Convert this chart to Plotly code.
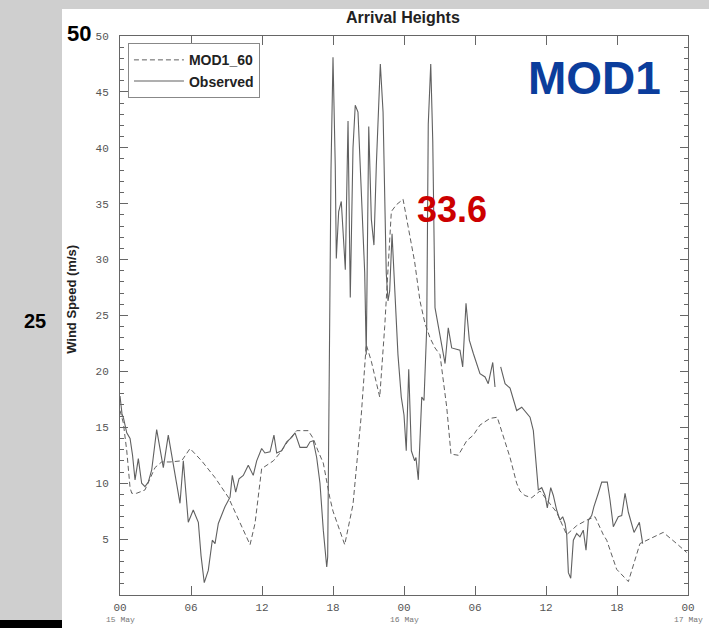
import plotly.graph_objects as go

# Hours since 00 UTC 15 May
obs_hours = [0.00, 0.17, 0.30, 0.57, 0.85, 1.06, 1.27, 1.55, 1.83, 2.11, 2.39, 2.68, 3.10, 3.38, 3.66,
             4.08, 4.50, 4.82, 5.07, 5.35, 5.77, 6.19, 6.62, 6.85, 7.12, 7.46, 7.80, 8.03, 8.31, 8.87,
             9.30, 9.49, 9.78, 10.06, 10.42, 10.84, 11.26, 11.55, 11.97, 12.25, 12.68, 13.01, 13.24,
             13.66, 14.09, 14.51, 14.79, 15.21, 15.78, 16.06, 16.33, 16.62, 16.90, 17.18, 17.47, 17.55,
             17.66, 17.83, 18.00, 18.19, 18.28, 18.48, 18.70, 18.93, 19.04, 19.27, 19.46, 19.69, 19.88,
             20.11, 20.39, 20.68, 20.81, 21.02, 21.24, 21.46, 21.66, 22.00, 22.23, 22.50, 22.65, 22.79,
             22.99, 23.21, 23.49, 23.77, 24.00, 24.19, 24.40, 24.62, 24.90, 25.01, 25.21, 25.50, 25.69,
             25.92, 26.05, 26.26, 26.43, 26.62, 27.04, 27.47, 27.74, 28.03, 28.73, 28.96, 29.24, 29.52,
             29.86, 30.42, 30.85, 31.12, 31.50, 31.69, 31.90, 32.17, 32.54, 32.96, 33.52, 33.95, 34.37,
             34.65, 34.93, 35.21, 35.35, 35.64, 35.92, 36.11, 36.40, 36.62, 36.90, 37.18, 37.41, 37.61,
             37.75, 37.89, 38.09, 38.31, 38.59, 38.87, 39.15, 39.38, 39.58, 39.86, 40.05, 40.42, 40.71,
             41.18, 41.41, 41.69, 42.11, 42.40, 42.68, 42.96, 43.44, 43.89, 44.17]
obs_speed = [17.8, 16.2, 15.8, 14.5, 14.0, 12.5, 10.3, 12.2, 10.0, 9.7, 10.1, 11.2, 14.8, 13.0, 11.4,
             14.3, 11.8, 10.0, 8.2, 12.0, 6.5, 7.6, 6.5, 3.5, 1.1, 2.2, 4.9, 4.6, 6.4, 7.9,
             8.75, 10.7, 9.2, 10.4, 10.7, 11.6, 10.7, 12.0, 13.1, 12.7, 12.8, 14.3, 12.7,
             12.9, 13.7, 14.1, 14.5, 13.2, 13.2, 13.7, 13.8, 12.3, 10.0, 5.8, 2.5, 3.4,
             20.0, 38.0, 48.1, 38.4, 30.1, 34.3, 35.2, 31.7, 29.1, 42.4, 26.6, 40.0, 43.8,
             43.2, 36.8, 28.8, 21.5, 41.9, 33.6, 31.3, 38.4, 47.5, 43.2, 28.8, 26.3, 27.2,
             32.3, 27.2, 21.5, 17.7, 16.1, 12.9, 20.2, 12.9, 12.0, 12.3, 10.3, 17.7, 17.4,
             23.9, 42.1, 47.5, 40.6, 25.7, 23.4, 20.7, 23.9, 22.1, 21.9, 20.4, 26.1, 22.8,
             21.6, 19.8, 19.5, 18.9, 20.8, 18.6, None, 20.4, 18.9, 18.5, 16.5, 16.8, 16.3,
             15.9, 14.7, 10.9, 9.4, 9.6, 8.9, 7.8, 9.6, 8.9, 7.6, 6.7, 7.0, 6.4,
             5.4, 2.0, 1.5, 4.9, 5.5, 5.2, 5.8, 4.0, 6.7, 7.1, 7.9, 9.1, 10.1,
             10.1, 8.5, 6.1, 7.0, 7.1, 9.1, 7.4, 5.6, 6.5, 4.6]

mod_hours = [0.00, 0.28, 0.57, 0.85, 0.99, 1.41, 2.11, 2.96, 3.52, 4.23, 5.21, 5.92, 6.90, 8.03, 9.15,
             10.14, 10.99, 11.41, 11.97, 12.96, 13.52, 14.22, 14.93, 15.91, 16.33, 16.73, 17.18, 17.72,
             18.00, 18.99, 19.69, 20.39, 20.81, 21.24, 21.95, 22.37, 22.65, 22.93, 23.35, 23.92, 24.34,
             24.90, 25.35, 25.77, 26.20, 26.62, 27.04, 27.61, 27.97, 28.59, 29.30, 29.86, 30.42, 31.27,
             31.88, 32.68, 32.96, 33.52, 33.80, 34.22, 34.79, 35.49, 36.90, 37.75, 38.59, 39.44, 40.14,
             40.84, 41.13, 41.97, 42.96, 43.94, 45.91, 47.04, 47.89]
mod_speed = [16.5, 15.4, 12.9, 9.6, 9.1, 9.1, 9.4, 11.4, 11.9, 11.9, 12.0, 13.1, 12.0, 10.5, 8.75,
             6.4, 4.5, 6.4, 11.3, 12.0, 12.7, 13.8, 14.7, 14.7, 14.0, 12.9, 11.8, 8.75,
             7.5, 4.5, 8.1, 16.1, 22.4, 20.9, 17.7, 24.0, 28.8, 34.3, 34.9, 35.4, 33.0,
             29.8, 26.3, 24.3, 23.0, 22.1, 21.5, 16.8, 12.6, 12.5, 13.8, 14.3, 15.2, 15.8,
             15.9, 13.2, 12.3, 10.0, 9.3, 8.9, 8.7, 9.3, 7.4, 5.4, 6.2, 6.7, 7.0,
             5.4, 4.9, 2.3, 1.2, 4.6, 5.6, 4.6, 3.8]

x_tickvals = [0, 6, 12, 18, 24, 30, 36, 42, 48]
x_ticktext = ["00", "06", "12", "18", "00", "06", "12", "18", "00"]
day_labels = ["15 May", "16 May", "17 May"]
day_hours = [0, 24, 48]
y_tickvals = [5, 10, 15, 20, 25, 30, 35, 40, 45, 50]

line_gray = "#606060"
axis_gray = "#666666"

fig = go.Figure()
fig.add_trace(go.Scatter(x=mod_hours, y=mod_speed, mode="lines", name="MOD1_60",
                         line=dict(color=line_gray, width=1, dash="5px,3px")))
fig.add_trace(go.Scatter(x=obs_hours, y=obs_speed, mode="lines", name="Observed",
                         line=dict(color=line_gray, width=1.1), connectgaps=False))

fig.update_layout(
    width=709, height=628,
    margin=dict(l=120, r=21, t=36, b=33),
    paper_bgcolor="white", plot_bgcolor="white",
    font=dict(family="Liberation Sans", color="#222222"),
    title=dict(text="Arrival Heights", x=0.5683, xref="container", xanchor="center",
               y=0.973, yref="container", yanchor="middle",
               font=dict(family="Liberation Sans", size=16, color="#222222", weight="bold")),
    showlegend=True,
    legend=dict(x=0.014, y=0.987, xanchor="left", yanchor="top",
                bgcolor="white", bordercolor="#888888", borderwidth=1,
                font=dict(family="Liberation Sans", size=14, color="#222222", weight="bold"),
                tracegroupgap=0, itemwidth=50),
    xaxis=dict(range=[0, 48], tickmode="array", tickvals=x_tickvals, ticktext=x_ticktext,
               ticks="inside", ticklen=9, tickcolor=axis_gray, showline=True, linecolor=axis_gray,
               linewidth=1, mirror="allticks", showgrid=False, zeroline=False,
               tickfont=dict(family="Liberation Mono", size=11, color="#555555"),
               ticklabelstandoff=2),
    yaxis=dict(range=[0, 50], tickmode="array", tickvals=y_tickvals,
               ticks="inside", ticklen=8, tickcolor=axis_gray, showline=True, linecolor=axis_gray,
               linewidth=1, mirror="allticks", showgrid=False, zeroline=False,
               tickfont=dict(family="Liberation Mono", size=11, color="#555555"),
               ticklabelstandoff=8,
               minor=dict(dtick=1, ticks="inside", ticklen=4, tickcolor=axis_gray, showgrid=False)),
)

# Textured backdrop strips along the left and top edges, and the dark bar at bottom left
fig.add_shape(type="rect", xref="paper", yref="paper", x0=-0.212, x1=-0.1021, y0=-0.06, y1=1.065,
              fillcolor="#cfcfcf", line=dict(width=0), layer="below")
fig.add_shape(type="rect", xref="paper", yref="paper", x0=-0.212, x1=1.04, y0=1.0483, y1=1.065,
              fillcolor="#cfcfcf", line=dict(width=0), layer="below")
fig.add_shape(type="rect", xref="paper", yref="paper", x0=-0.212, x1=-0.1021, y0=-0.06, y1=-0.0447,
              fillcolor="black", line=dict(width=0))

# Day labels under the midnight ticks
for h, lab in zip(day_hours, day_labels):
    fig.add_annotation(x=h, xref="x", y=-0.0435, yref="paper", text=lab, showarrow=False,
                       xanchor="center", yanchor="middle",
                       font=dict(family="Liberation Mono", size=8, color="#777777"))

# Axis title
fig.add_annotation(x=-0.0845, y=0.528, xref="paper", yref="paper", text="Wind Speed (m/s)",
                   textangle=-90, showarrow=False, xanchor="center", yanchor="middle",
                   font=dict(family="Liberation Sans", size=13, color="#222222", weight="bold"))

# X axis title, running off the bottom edge
fig.add_annotation(x=0.498, y=-0.068, xref="paper", yref="paper", text="Arrival Heights",
                   showarrow=False, xanchor="center", yanchor="top",
                   font=dict(family="Liberation Sans", size=16, color="#222222", weight="bold"))

# Overlaid call-outs
fig.add_annotation(x=-0.072, y=1.005, xref="paper", yref="paper", text="50", showarrow=False,
                   xanchor="center", yanchor="middle",
                   font=dict(family="Liberation Sans", size=22, color="black", weight="bold"))
fig.add_annotation(x=-0.15, y=0.49, xref="paper", yref="paper", text="25", showarrow=False,
                   xanchor="center", yanchor="middle",
                   font=dict(family="Liberation Sans", size=20, color="black", weight="bold"))
fig.add_annotation(x=0.836, y=0.925, xref="paper", yref="paper", text="MOD1", showarrow=False,
                   xanchor="center", yanchor="middle",
                   font=dict(family="Liberation Sans", size=46, color="#0b3d9c", weight="bold"))
fig.add_annotation(x=0.519, y=0.690, xref="paper", yref="paper", text="33.6", showarrow=False,
                   xanchor="left", yanchor="middle",
                   font=dict(family="Liberation Sans", size=36, color="#cc0000", weight="bold"))

fig.write_html("out.html")
